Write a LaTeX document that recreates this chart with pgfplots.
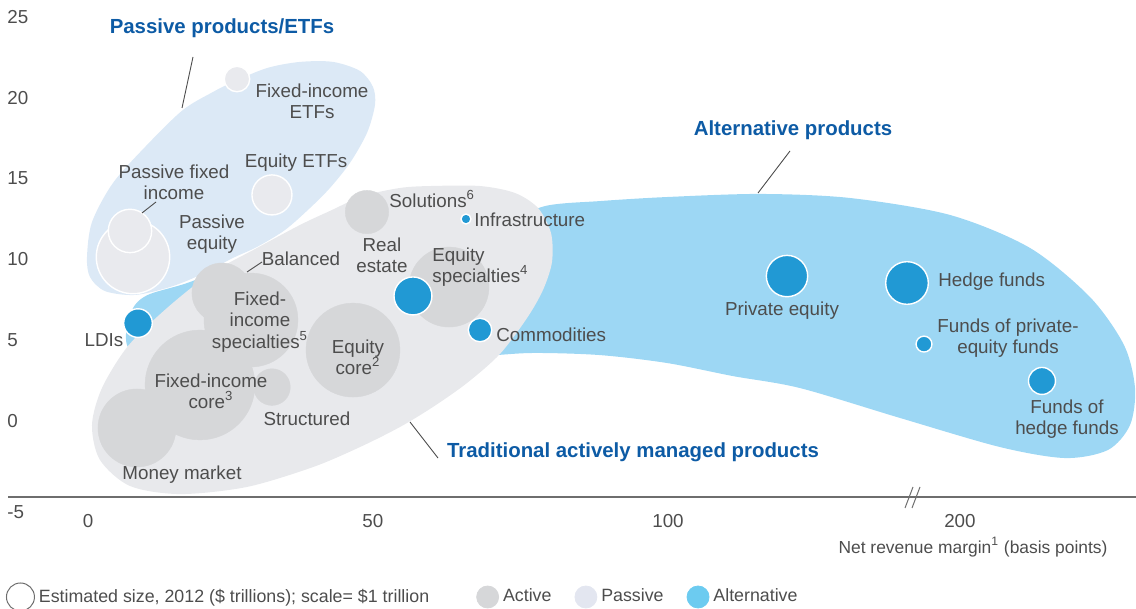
\documentclass[border=0pt]{standalone}
\usepackage{fontspec}
\setmainfont{Liberation Sans}
\usepackage{pgfplots}
\usepackage{pgfplotstable}
\pgfplotsset{compat=1.18}

\definecolor{altblue}{HTML}{2199D4}
\definecolor{altblob}{HTML}{9DD7F4}
\definecolor{pasblob}{HTML}{DCE9F6}
\definecolor{grayblob}{HTML}{E8E9EC}
\definecolor{actbub}{HTML}{D6D7D9}
\definecolor{pasbub}{HTML}{E9EAEE}
\definecolor{titleblue}{HTML}{0D5BA5}
\definecolor{txt}{HTML}{4D4D4D}
\definecolor{axisgray}{HTML}{6E6E6E}
\definecolor{legalt}{HTML}{6CCBF0}
\definecolor{legpas}{HTML}{E3E6F0}

% x = net revenue margin (display position on the broken axis), y = vertical axis value, size = $ trillions
\pgfplotstableread{
x y size
8.45 -0.43 6.76
19.31 2.23 13.4
31.72 2.10 1.49
23.10 7.92 4.0
28.10 6.25 9.8
45.69 4.39 9.8
62.24 8.29 7.1
48.10 12.93 2.09
}\activedata

\pgfplotstableread{
x y size
7.76 10.15 5.99
7.24 11.76 2.09
25.69 21.16 0.72
31.72 13.99 1.78
}\passivedata

\pgfplotstableread{
x y size
8.62 6.06 0.91
56.03 7.74 1.60
67.59 5.63 0.61
65.17 12.50 0.11
120.52 8.97 1.90
141.21 8.54 2.02
144.14 4.76 0.28
164.48 2.48 0.81
}\altdata

\pgfplotsset{
  bub/.style n args={3}{scatter, only marks, mark=*, forget plot,
    visualization depends on={7.5*sqrt(\thisrow{size}) \as \perpointmarksize},
    scatter/@pre marker code/.code={%
      \pgfsetplotmarksize{\perpointmarksize pt}%
      \pgfsetfillcolor{#1}\pgfsetstrokecolor{#2}\pgfsetlinewidth{#3}},
    scatter/@post marker code/.code={}},
}

\newcommand{\lf}{\fontsize{9.4}{10.6}\selectfont}
\newcommand{\tf}{\fontsize{10.2}{12}\selectfont\bfseries}

\begin{document}
\begin{tikzpicture}
\begin{axis}[
  at={(4pt,-259pt)}, anchor=south west,
  scale only axis, width=564pt, height=259pt,
  xmin=-13.79, xmax=180.69, ymin=-6, ymax=26.05,
  axis line style={draw=none}, tick style={draw=none},
  xtick={0,49.1,100,150.34}, xticklabels={0,50,100,200},
  ytick={-5.66,0,5,10,15,20,25}, yticklabels={-5,0,5,10,15,20,25},
  tick label style={font=\fontsize{9.4}{11}\selectfont, text=txt},
  xticklabel style={anchor=center, yshift=-1.5pt, inner sep=0pt},
  yticklabel style={anchor=west, inner sep=0pt, xshift=-0.5pt},
  /pgf/number format/assume math mode=true,
  clip=false,
  xlabel={Net revenue margin\textsuperscript{1} (basis points)},
  xlabel style={at={(axis description cs:0.8555,-0.056)}, anchor=center,
    font=\fontsize{8.7}{10}\selectfont, text=txt, inner sep=0pt},
  legend style={at={(axis description cs:-0.0018,-0.1525)}, anchor=west,
    draw=none, fill=none, inner sep=0pt, outer sep=0pt,
    legend columns=-1, font=\fontsize{8.9}{10}\selectfont, text=txt,
    /tikz/every even column/.append style={column sep=9.5pt}},
  legend cell align=left,
]
% alternative blob
\addplot[smooth cycle, fill=altblob, draw=none, forget plot] coordinates {
(6.90,4.58) (6.72,5.94) (8.10,7.18) (10.69,7.86) (17.59,8.60) (25.34,9.84)
(29.31,10.52) (40.00,9.84) (57.24,10.58) (71.03,12.13) (78.79,13.30)
(88.28,13.61) (99.83,13.86) (115.86,14.05)
(131.38,13.80) (148.62,12.75) (162.41,10.71) (172.76,7.67) (178.62,4.70)
(180.52,2.04) (179.66,-0.25) (175.86,-1.79) (168.45,-2.29) (157.24,-1.61)
(140.00,0.19) (122.76,2.04) (111.21,2.78) (99.83,3.59) (88.28,4.08)
(76.72,4.21) (67.59,4.02) (45.17,3.65) (19.31,3.77) (10.69,4.08)};
% passive blob
\addplot[smooth cycle, fill=pasblob, draw=none, forget plot] coordinates {
(-0.17,10.15) (0.69,12.31) (4.31,14.73) (10.17,17.08) (16.38,19.25)
(21.55,20.36) (25.00,20.98) (30.86,21.84) (36.55,22.22) (42.24,22.22)
(46.90,21.66) (49.14,20.67) (49.48,19.55) (48.10,17.82) (45.17,15.97)
(41.72,14.42) (38.28,13.18) (33.97,11.82) (29.14,10.77) (25.00,10.09)
(19.31,9.03) (14.14,8.29) (8.10,7.80) (2.93,8.04) (0.34,8.91)};
% traditional blob
\addplot[smooth cycle, fill=grayblob, draw=none, forget plot] coordinates {
(15.86,-4.52) (7.24,-4.02) (2.07,-2.41) (0.69,-0.25) (2.41,2.04) (6.90,4.64)
(13.62,6.99) (21.03,9.10) (28.79,10.64) (36.55,12.13) (41.72,13.00)
(47.41,13.92) (53.79,14.42) (58.97,14.54) (67.59,14.54) (73.62,14.11)
(77.59,13.18) (79.83,11.63) (80.00,9.84) (78.45,8.11) (75.69,6.37)
(71.03,4.15) (65.34,2.35) (59.48,0.87) (53.79,-0.37) (46.90,-1.61)
(38.79,-2.85) (27.41,-4.08)};
% bubbles
\addplot[bub={actbub}{actbub}{0.2pt}] table[x=x,y=y] {\activedata};
\addplot[bub={pasbub}{white}{0.7pt}] table[x=x,y=y] {\passivedata};
\addplot[bub={altblue}{white}{0.7pt}] table[x=x,y=y] {\altdata};

\addlegendimage{legend image code/.code={\draw[axisgray, line width=0.5pt] (7pt,0pt) circle[radius=7pt];}}
\addlegendentry{Estimated size, 2012 (\$ trillions); scale= \$1 trillion\rule{12pt}{0pt}}
\addlegendimage{legend image code/.code={\fill[actbub] (5.5pt,0pt) circle[radius=5.5pt];}}
\addlegendentry{Active}
\addlegendimage{legend image code/.code={\fill[legpas] (5.5pt,0pt) circle[radius=5.5pt];}}
\addlegendentry{Passive}
\addlegendimage{legend image code/.code={\fill[legalt] (5.5pt,0pt) circle[radius=5.5pt];}}
\addlegendentry{Alternative}
\end{axis}

\begin{scope}[x=0.5pt, y=-0.5pt]
% x axis line and break
\draw[axisgray, line width=0.6pt] (8,497) -- (1136,497);
\draw[axisgray, line width=0.5pt] (905,508) -- (913,487) (912,508) -- (920,487);
% leader lines
\draw[txt, line width=0.45pt] (193,57) -- (182,108);
\draw[txt, line width=0.45pt] (790,151) -- (758,193);
\draw[txt, line width=0.45pt] (410,422) -- (438,458);
\draw[txt, line width=0.45pt] (142,213) -- (156,202);
\draw[txt, line width=0.45pt] (247,272) -- (262,262);
% titles
\node[text=titleblue, font=\tf, inner sep=0pt] at (222,28) {Passive products/ETFs};
\node[text=titleblue, font=\tf, inner sep=0pt] at (793,130) {Alternative products};
\node[text=titleblue, font=\tf, inner sep=0pt] at (633,452) {Traditional actively managed products};
% labels
\begin{scope}[every node/.style={text=txt, font=\lf, inner sep=0pt, align=center}]
\node at (312,101) {Fixed-income\\ETFs};
\node at (296,163) {Equity ETFs};
\node at (174,182) {Passive fixed\\income};
\node at (212,234) {Passive\\equity};
\node at (301,259) {Balanced};
\node at (382,255) {Real\\estate};
\node[anchor=west] at (389,199) {Solutions\textsuperscript{6}};
\node[anchor=west] at (474,220) {Infrastructure};
\node[anchor=west, align=left] at (432,267) {Equity\\specialties\textsuperscript{4}};
\node[anchor=west] at (496,335) {Commodities};
\node at (260,322) {Fixed-\\income\\specialties\textsuperscript{5}};
\node at (358,357) {Equity\\core\textsuperscript{2}};
\node at (104,340) {LDIs};
\node at (211,391) {Fixed-income\\core\textsuperscript{3}};
\node at (307,419) {Structured};
\node at (182,475) {Money market};
\node at (782,311) {Private equity};
\node[anchor=west] at (938,282) {Hedge funds};
\node at (1008,338) {Funds of private-\\equity funds};
\node at (1067,419) {Funds of\\hedge funds};
\end{scope}
\end{scope}
\pgfresetboundingbox
\path[use as bounding box] (0,0) rectangle (568pt,-304.5pt);
\end{tikzpicture}
\end{document}
